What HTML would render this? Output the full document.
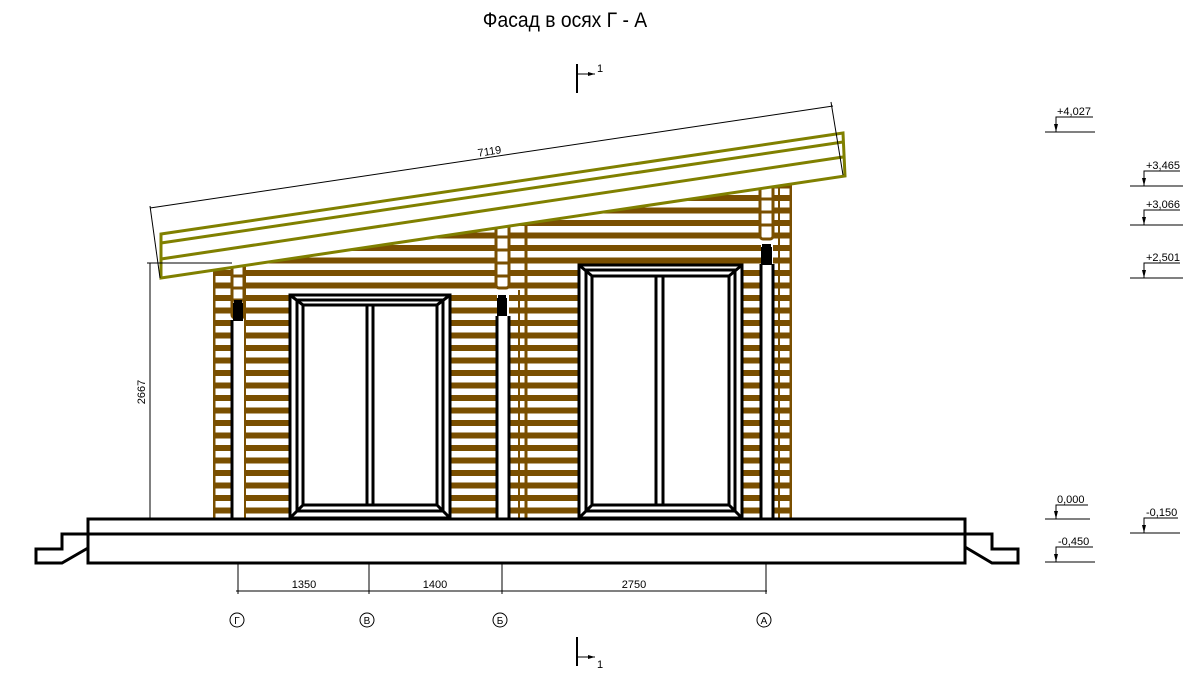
<!DOCTYPE html>
<html><head><meta charset="utf-8"><style>html,body{margin:0;padding:0;background:#fff}svg{display:block}</style></head>
<body>
<svg width="1200" height="687" viewBox="0 0 1200 687" xmlns="http://www.w3.org/2000/svg" font-family="Liberation Sans, sans-serif">
<defs>
<pattern id="st" patternUnits="userSpaceOnUse" x="0" y="407.5" width="20" height="12.5">
<rect x="0" y="0" width="20" height="6" fill="#7a4f00"/>
</pattern>
<clipPath id="wall"><polygon points="213,270.2 792,183.9 792,520 213,520"/></clipPath>
</defs>
<text x="565" y="27" font-size="21" text-anchor="middle" fill="#000" font-weight="300" transform="translate(565 0) scale(0.92 1) translate(-565 0)">Фасад в осях Г - А</text>

<g clip-path="url(#wall)">
<rect x="213" y="150" width="579" height="370" fill="url(#st)"/>
<line x1="214" y1="150" x2="214" y2="520" stroke="#7a4f00" stroke-width="3"/>
<line x1="791" y1="150" x2="791" y2="520" stroke="#7a4f00" stroke-width="3"/>
<line x1="526" y1="150" x2="526" y2="520" stroke="#7a4f00" stroke-width="3"/>
<line x1="519" y1="290" x2="519" y2="520" stroke="#7a4f00" stroke-width="2"/>
<line x1="779" y1="150" x2="779" y2="520" stroke="#7a4f00" stroke-width="2"/>
<rect x="232" y="150" width="13" height="370" fill="#fff"/>
<rect x="497" y="150" width="12" height="370" fill="#fff"/>
<rect x="761" y="150" width="12" height="370" fill="#fff"/>
<line x1="245" y1="150" x2="245" y2="520" stroke="#7a4f00" stroke-width="2"/>
</g>
<g fill="#fff" stroke="#7a4f00" stroke-width="3">
<rect x="232" y="264" width="12" height="54" rx="3"/>
<rect x="496" y="224" width="13" height="64" rx="3"/>
<rect x="760" y="186" width="13" height="53" rx="3"/>
</g>
<g stroke="#7a4f00" stroke-width="3">
<line x1="232" y1="276" x2="244" y2="276"/><line x1="232" y1="288" x2="244" y2="288"/><line x1="232" y1="300" x2="244" y2="300"/>
<line x1="496" y1="237" x2="509" y2="237"/><line x1="496" y1="250" x2="509" y2="250"/><line x1="496" y1="263" x2="509" y2="263"/><line x1="496" y1="276" x2="509" y2="276"/>
<line x1="760" y1="199" x2="773" y2="199"/><line x1="760" y1="212" x2="773" y2="212"/><line x1="760" y1="225" x2="773" y2="225"/>
</g>
<g fill="#000">
<rect x="233" y="303" width="10" height="18"/><rect x="234" y="300" width="8" height="4"/>
<rect x="497" y="298" width="10" height="18"/><rect x="498" y="295" width="8" height="4"/>
<rect x="761" y="247" width="11" height="18"/><rect x="762" y="244" width="9" height="4"/>
</g>
<g stroke="#000" stroke-width="3" fill="none">
<line x1="232" y1="320" x2="232" y2="563"/>
<line x1="497" y1="316" x2="497" y2="520"/><line x1="509" y1="316" x2="509" y2="520"/>
<line x1="761" y1="264" x2="761" y2="520"/><line x1="773" y1="264" x2="773" y2="520"/>
</g>

<g stroke="#000" stroke-width="3" fill="#fff">
<rect x="290" y="295" width="160" height="223"/>
<rect x="297" y="300" width="146" height="211" fill="none"/>
<rect x="303" y="305" width="134" height="200"/>
<line x1="367" y1="305" x2="367" y2="505"/><line x1="373" y1="305" x2="373" y2="505"/>
<line x1="290" y1="295" x2="303" y2="305"/><line x1="450" y1="295" x2="437" y2="305"/>
<line x1="290" y1="518" x2="303" y2="505"/><line x1="450" y1="518" x2="437" y2="505"/>
</g>
<g stroke="#000" stroke-width="3" fill="#fff">
<rect x="579" y="265" width="163" height="253"/>
<rect x="586" y="270" width="149" height="241" fill="none"/>
<rect x="592" y="276" width="137" height="229"/>
<line x1="656" y1="276" x2="656" y2="505"/><line x1="663" y1="276" x2="663" y2="505"/>
<line x1="579" y1="265" x2="592" y2="276"/><line x1="742" y1="265" x2="729" y2="276"/>
<line x1="579" y1="518" x2="592" y2="505"/><line x1="742" y1="518" x2="729" y2="505"/>
</g>

<g stroke="#808000" stroke-width="3" fill="none">
<polygon points="161,234 843,133 845,176 161,278" fill="#fff"/>
<line x1="161" y1="243" x2="843" y2="142"/>
<line x1="161" y1="259" x2="843" y2="157"/>
</g>

<g stroke="#000" stroke-width="3" fill="none">
<rect x="88" y="519" width="877" height="44" fill="#fff"/>
<line x1="88" y1="534" x2="965" y2="534"/>
<polyline points="88,534 62,534 62,549 36,549 36,563 62,563 88,548"/>
<polyline points="965,534 992,534 992,549 1018,549 1018,563 992,563 965,547"/>
</g>

<g stroke="#000" stroke-width="1" fill="none">
<line x1="150" y1="208" x2="833" y2="106"/>
<line x1="150" y1="206" x2="160" y2="278"/>
<line x1="831" y1="102" x2="843" y2="175"/>
<line x1="150" y1="263" x2="150" y2="520"/>
<line x1="147" y1="263" x2="232" y2="263"/>
<line x1="147" y1="520" x2="213" y2="520"/>
<line x1="236" y1="591" x2="767" y2="591"/>
<line x1="238" y1="563" x2="238" y2="594"/>
<line x1="369" y1="563" x2="369" y2="594"/>
<line x1="502" y1="563" x2="502" y2="594"/>
<line x1="766" y1="563" x2="766" y2="594"/>
<circle cx="237" cy="620" r="7"/><circle cx="367" cy="620" r="7"/><circle cx="500" cy="620" r="7"/><circle cx="764" cy="620" r="7"/>
</g>
<g font-size="11" fill="#000" text-anchor="middle">
<text x="490" y="155" transform="rotate(-8.5 490 155)">7119</text>
<text x="145" y="392" transform="rotate(-90 145 392)">2667</text>
<text x="304" y="588">1350</text><text x="435" y="588">1400</text><text x="634" y="588">2750</text>
<text x="237" y="624" font-size="10">Г</text><text x="367" y="624" font-size="10">В</text><text x="500" y="624" font-size="10">Б</text><text x="764" y="624" font-size="10">А</text>
</g>

<g stroke="#000" fill="none">
<line x1="577" y1="64" x2="577" y2="93" stroke-width="2"/><line x1="577" y1="74" x2="595" y2="74" stroke-width="1"/>
<line x1="577" y1="637" x2="577" y2="666" stroke-width="2"/><line x1="577" y1="657" x2="595" y2="657" stroke-width="1"/>
</g>
<polygon points="595,74 588,72 588,76" fill="#000"/>
<polygon points="595,657 588,655 588,659" fill="#000"/>
<text x="597" y="72" font-size="11">1</text>
<text x="597" y="668" font-size="11">1</text>

<g stroke="#000" stroke-width="1" fill="none">
<path d="M1045 132H1095M1056 132V117H1093"/>
<path d="M1130 186H1183M1144 186V171H1180"/>
<path d="M1130 225H1183M1144 225V210H1180"/>
<path d="M1130 278H1183M1144 278V263H1180"/>
<path d="M1045 519H1090M1056 519V505H1088"/>
<path d="M1045 562H1095M1056 562V547H1093"/>
<path d="M1130 533H1180M1144 533V518H1178"/>
</g>
<g fill="#000">
<polygon points="1056,132 1054,124 1058,124"/><polygon points="1144,186 1142,178 1146,178"/>
<polygon points="1144,225 1142,217 1146,217"/><polygon points="1144,278 1142,270 1146,270"/>
<polygon points="1056,519 1054,511 1058,511"/><polygon points="1056,562 1054,554 1058,554"/>
<polygon points="1144,533 1142,525 1146,525"/>
</g>
<g font-size="11" fill="#000">
<text x="1057" y="115">+4,027</text>
<text x="1146" y="169">+3,465</text>
<text x="1146" y="208">+3,066</text>
<text x="1146" y="261">+2,501</text>
<text x="1057" y="503">0,000</text>
<text x="1058" y="545">-0,450</text>
<text x="1146" y="516">-0,150</text>
</g>
</svg>
</body></html>
